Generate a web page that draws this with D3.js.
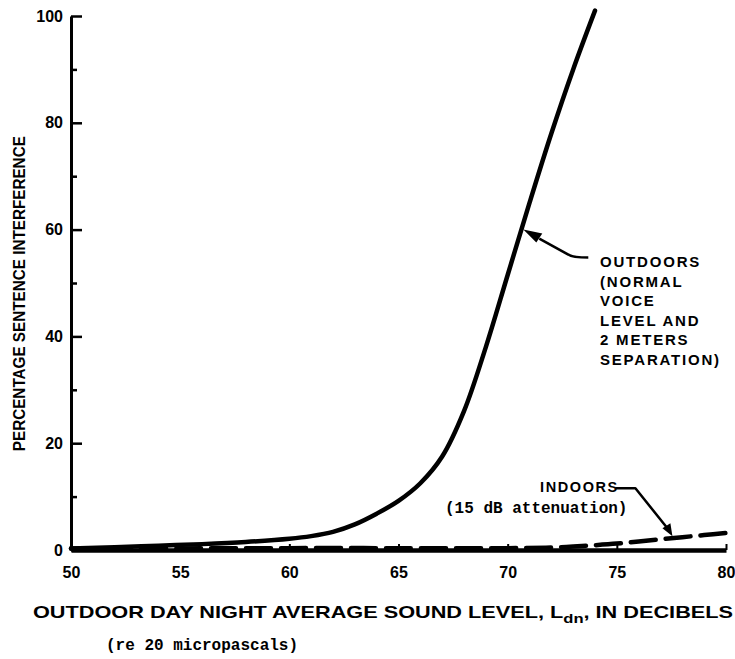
<!DOCTYPE html>
<html>
<head>
<meta charset="utf-8">
<script src="https://cdn.jsdelivr.net/npm/d3@7"></script>
<style>
  html, body { margin: 0; padding: 0; background: #fff; }
  svg { display: block; }
  text { fill: #000; }
</style>
</head>
<body>
<svg id="chart" width="735" height="659"></svg>
<script>
// ---- data ----
const xTicks = [50, 55, 60, 65, 70, 75, 80];
const yTicks = [0, 20, 40, 60, 80, 100];
const yMinorTicks = [10, 30, 50, 70, 90];

const outdoorLevel = [50, 52, 54, 56, 58, 60, 61, 62, 63, 64, 65, 66, 67, 68, 69, 70, 71, 72, 73, 74];
const outdoorPct   = [0.3, 0.5, 0.8, 1.1, 1.5, 2.1, 2.6, 3.4, 4.8, 6.8, 9.2, 12.5, 17.5, 26, 38, 51.5, 65, 78, 90, 101];

const indoorLevel = [50, 55, 60, 65, 70, 72, 73, 74, 75, 76, 77, 78, 79, 80];
const indoorPct   = [0.3, 0.3, 0.35, 0.35, 0.35, 0.45, 0.65, 0.9, 1.2, 1.6, 2.0, 2.4, 2.8, 3.2];

const outdoorLabel = ["OUTDOORS", "(NORMAL", "VOICE", "LEVEL AND", "2 METERS", "SEPARATION)"];
const indoorLabel = ["INDOORS", "(15 dB attenuation)"];
const yTitle = "PERCENTAGE SENTENCE INTERFERENCE";
const xTitleMain = "OUTDOOR DAY NIGHT AVERAGE SOUND LEVEL, L";
const xTitleSub = "dn";
const xTitleEnd = ", IN DECIBELS";
const xTitle2 = "(re 20 micropascals)";

// ---- layout ----
const svg = d3.select("#chart");
const x = d3.scaleLinear().domain([50, 80]).range([71, 726]);
const y = d3.scaleLinear().domain([0, 100]).range([550, 16]);
const sansBold = "'Liberation Sans', Arial, sans-serif";
const mono = "'Liberation Mono', 'Courier New', monospace";

// y axis (major)
const yAxis = svg.append("g").attr("transform", `translate(${x(50)},0)`)
  .call(d3.axisLeft(y).tickValues(yTicks).tickSize(-11).tickSizeOuter(0).tickPadding(8)
    .tickFormat(d3.format("d")));
yAxis.select(".domain").attr("stroke", "#000").attr("stroke-width", 3);
yAxis.selectAll(".tick line").attr("stroke", "#000").attr("stroke-width", 2.5);
yAxis.selectAll(".tick text").attr("font-family", sansBold).attr("font-weight", "bold")
  .attr("font-size", 16).attr("fill", "#000");
// y axis minor ticks
const yMinor = svg.append("g").attr("transform", `translate(${x(50)},0)`)
  .call(d3.axisLeft(y).tickValues(yMinorTicks).tickSize(-6).tickFormat(""));
yMinor.select(".domain").remove();
yMinor.selectAll(".tick line").attr("stroke", "#000").attr("stroke-width", 2.5);

// x axis
const xAxis = svg.append("g").attr("transform", `translate(0,${y(0)})`)
  .call(d3.axisBottom(x).tickValues(xTicks).tickSize(-6).tickSizeOuter(0).tickPadding(17)
    .tickFormat(d3.format("d")));
xAxis.select(".domain").attr("stroke", "#000").attr("stroke-width", 4.5);
xAxis.selectAll(".tick line").attr("stroke", "#000").attr("stroke-width", 2);
xAxis.selectAll(".tick text").attr("font-family", sansBold).attr("font-weight", "bold")
  .attr("font-size", 16).attr("fill", "#000");

// curves
const line = d3.line().x(d => x(d[0])).y(d => y(d[1])).curve(d3.curveCatmullRom.alpha(0.5));
svg.append("path")
  .datum(outdoorLevel.map((v, i) => [v, outdoorPct[i]]))
  .attr("d", line).attr("fill", "none").attr("stroke", "#000")
  .attr("stroke-width", 4.5).attr("stroke-linecap", "round");
svg.append("path")
  .datum(indoorLevel.map((v, i) => [v, indoorPct[i]]))
  .attr("d", line).attr("fill", "none").attr("stroke", "#000")
  .attr("stroke-width", 4.5).attr("stroke-dasharray", "25,10").attr("stroke-linecap", "round");

// y title
svg.append("text")
  .attr("transform", `translate(25,${y(48)}) rotate(-90)`)
  .attr("text-anchor", "middle")
  .attr("font-family", sansBold).attr("font-weight", "bold").attr("font-size", 16.5)
  .attr("textLength", 315).attr("lengthAdjust", "spacingAndGlyphs")
  .text(yTitle);

// outdoors annotation
const oLbl = svg.append("text").attr("font-family", sansBold).attr("font-weight", "bold")
  .attr("font-size", 15).attr("letter-spacing", 1.8);
outdoorLabel.forEach((t, i) => {
  oLbl.append("tspan").attr("x", 600).attr("y", 267 + i * 19.6).text(t);
});
const ax = x(70.67), ay = y(60);
svg.append("path")
  .attr("d", `M${ax + 17},${ay + 9} L${ax + 46},${ay + 25} Q${ax + 50},${ay + 28} ${ax + 66},${ay + 28}`)
  .attr("fill", "none").attr("stroke", "#000").attr("stroke-width", 2.5);
svg.append("path")
  .attr("d", `M${ax + 1},${ay} L${ax + 20},${ay + 4} L${ax + 14},${ay + 13} Z`)
  .attr("fill", "#000");

// indoors annotation
svg.append("text").attr("x", 540).attr("y", 492)
  .attr("font-family", sansBold).attr("font-weight", "bold").attr("font-size", 14.5)
  .attr("letter-spacing", 1.6).text(indoorLabel[0]);
svg.append("text").attr("x", 445).attr("y", 513)
  .attr("font-family", mono).attr("font-weight", "bold").attr("font-size", 16)
  .text(indoorLabel[1]);
const bx = x(77.5), by = y(2.2);
svg.append("path")
  .attr("d", `M${bx - 56},${by - 50} L${bx - 36},${by - 50} L${bx - 4},${by - 10}`)
  .attr("fill", "none").attr("stroke", "#000").attr("stroke-width", 2.5).attr("stroke-linejoin", "round");
svg.append("path")
  .attr("d", `M${bx + 1},${by - 2} L${bx - 9},${by - 10} L${bx - 1},${by - 15} Z`)
  .attr("fill", "#000");

// x title
const xt = svg.append("text").attr("x", 33).attr("y", 618)
  .attr("font-family", sansBold).attr("font-weight", "bold").attr("font-size", 17)
  .attr("textLength", 700).attr("lengthAdjust", "spacingAndGlyphs");
xt.append("tspan").text(xTitleMain);
xt.append("tspan").attr("dy", 5).attr("font-size", 13).text(xTitleSub);
xt.append("tspan").attr("dy", -5).text(xTitleEnd);

svg.append("text").attr("x", 106).attr("y", 650)
  .attr("font-family", mono).attr("font-weight", "bold").attr("font-size", 16)
  .text(xTitle2);
</script>
</body>
</html>
